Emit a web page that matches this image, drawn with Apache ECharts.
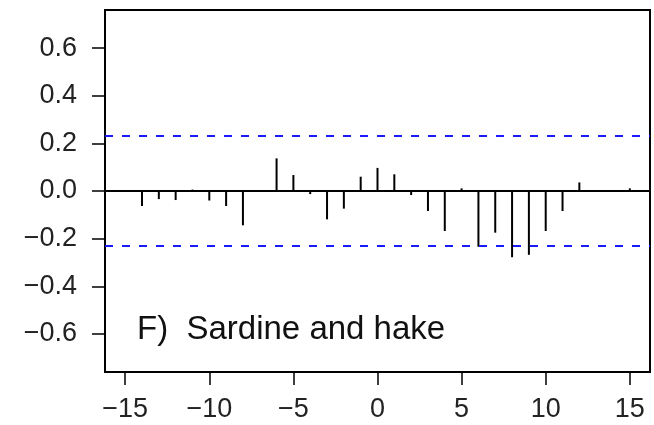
<!DOCTYPE html>
<html>
<head>
<meta charset="utf-8">
<script src="https://cdn.jsdelivr.net/npm/echarts@6/dist/echarts.min.js"></script>
<style>
  html, body { margin: 0; padding: 0; background: #fff; }
  #chartBox { width: 654px; height: 425px; }
</style>
</head>
<body>
<div id="chartBox"></div>
<script>
  // lags and cross-correlation values
  var lags = [-15, -14, -13, -12, -11, -10, -9, -8, -7, -6, -5, -4, -3, -2, -1, 0,
              1, 2, 3, 4, 5, 6, 7, 8, 9, 10, 11, 12, 13, 14, 15];
  var ccf = [0.003, -0.063, -0.034, -0.038, 0.006, -0.040, -0.063, -0.144, 0.002, 0.137, 0.067,
             -0.013, -0.119, -0.074, 0.060, 0.097, 0.070, -0.017, -0.084, -0.168, 0.011,
             -0.234, -0.175, -0.278, -0.268, -0.168, -0.084, 0.036, -0.004, 0.004, 0.011];
  var ciLimits = [0.235, -0.235];   // blue dashed lines
  var xTicks = [-15, -10, -5, 0, 5, 10, 15];
  var yTicks = [-0.6, -0.4, -0.2, 0.0, 0.2, 0.4, 0.6];
  var panelLabel = 'F)  Sardine and hake';

  var chart = echarts.init(document.getElementById('chartBox'));
  var font = 'Liberation Sans, Arial, sans-serif';
  var minus = function (s) { return String(s).replace('-', '\u2212'); };

  var option = {
    animation: false,
    backgroundColor: '#fff',
    grid: {
      left: 105, right: 4, top: 10, bottom: 53,
      show: true, borderColor: '#000', borderWidth: 2, backgroundColor: 'transparent'
    },
    xAxis: {
      type: 'value',
      min: -16.2, max: 16.2,
      splitLine: { show: false },
      axisLine: { show: false, onZero: false },
      axisTick: { show: true, length: 13, customValues: xTicks, lineStyle: { color: '#000', width: 1.5 } },
      axisLabel: {
        customValues: xTicks, margin: 24,
        fontFamily: font, fontSize: 27, color: '#222',
        formatter: function (v) { return minus(v); }
      }
    },
    yAxis: {
      type: 'value',
      min: -0.76, max: 0.76,
      splitLine: { show: false },
      axisLine: { show: false, onZero: false },
      axisTick: { show: true, length: 13, customValues: yTicks, lineStyle: { color: '#000', width: 1.5 } },
      axisLabel: {
        customValues: yTicks, margin: 28,
        fontFamily: font, fontSize: 27, color: '#222',
        formatter: function (v) { return minus(v.toFixed(1)); }
      }
    },
    series: [
      {
        type: 'bar',
        barWidth: 2,
        itemStyle: { color: '#000' },
        data: lags.map(function (l, i) { return [l, ccf[i]]; }),
        markLine: {
          silent: true,
          symbol: 'none',
          label: { show: false },
          data: [
            { yAxis: 0, lineStyle: { color: '#000', width: 2, type: 'solid' } },
            { yAxis: ciLimits[0], lineStyle: { color: '#1a1aff', width: 2, type: [8, 9] } },
            { yAxis: ciLimits[1], lineStyle: { color: '#1a1aff', width: 2, type: [8, 9] } }
          ]
        }
      }
    ],
    graphic: [
      {
        type: 'text',
        left: 137, top: 313,
        style: { text: panelLabel, fontFamily: font, fontSize: 33, fill: '#111' }
      }
    ]
  };

  chart.setOption(option);
  window.onresize = chart.resize;
</script>
</body>
</html>
